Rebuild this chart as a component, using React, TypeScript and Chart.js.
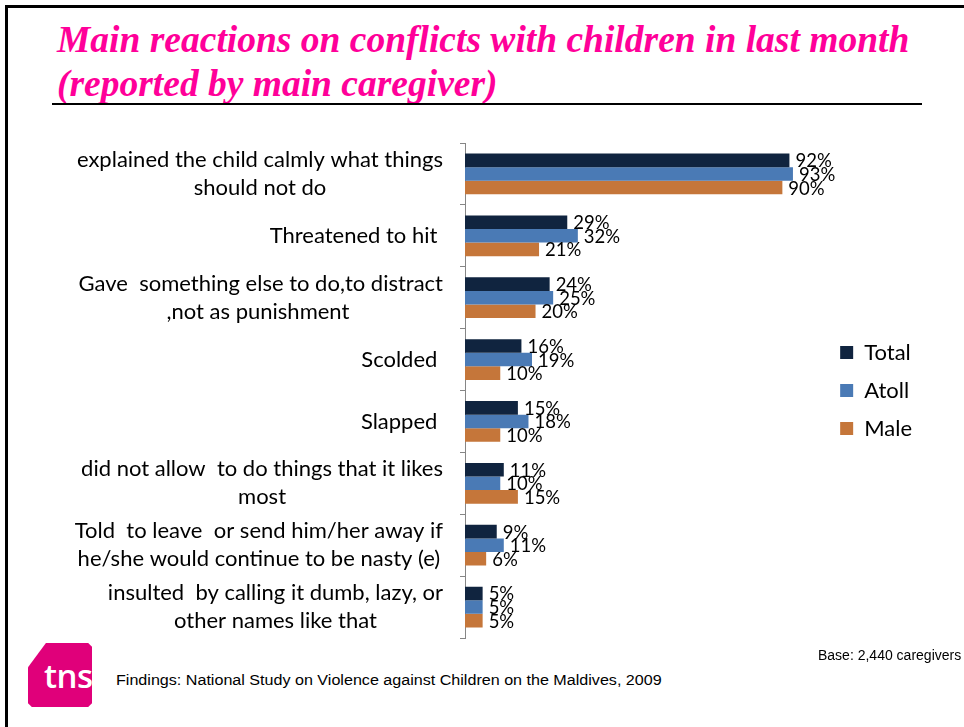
import React, { useEffect, useRef } from "react";
import { Chart, registerables } from "chart.js";

Chart.register(...registerables);

const titleLines = [
  "Main reactions on conflicts with children in last month",
  "(reported by main caregiver)",
];

const categories: (string | string[])[] = [
  ["explained the child calmly what things", "should not do"],
  "Threatened to hit ",
  ["Gave  something else to do,to distract", ",not as punishment "],
  "Scolded ",
  "Slapped ",
  ["did not allow  to do things that it likes", "most"],
  ["Told  to leave  or send him/her away if", "he/she would continue to be nasty (e)"],
  ["insulted  by calling it dumb, lazy, or", "other names like that"],
];

const seriesNames = ["Total", "Atoll", "Male"];
const totalValues = [92, 29, 24, 16, 15, 11, 9, 5];
const atollValues = [93, 32, 25, 19, 18, 10, 11, 5];
const maleValues = [90, 21, 20, 10, 10, 15, 6, 5];
const seriesColors = ["#10243F", "#4A7AB5", "#C5763A"];
const xMax = 101.85;

const baseNote = "Base: 2,440 caregivers";
const sourceNote = "Findings: National Study on Violence against Children on the Maldives, 2009";
const logoText = "tns";

const FONT = "Lato, 'Open Sans', sans-serif";

const categoryLabelPlugin = {
  id: "categoryLabels",
  afterDraw(chart: any) {
    const ctx = chart.ctx;
    const yScale = chart.scales.y;
    const rightEdge = yScale.right - 22;
    ctx.save();
    ctx.font = `22px ${FONT}`;
    ctx.fillStyle = "#000";
    ctx.textAlign = "center";
    ctx.textBaseline = "middle";
    categories.forEach((lab, i) => {
      const lines = Array.isArray(lab) ? lab : [lab];
      const widest = Math.max(...lines.map((l) => ctx.measureText(l).width));
      const cx = rightEdge - widest / 2;
      const cy = yScale.getPixelForValue(i);
      lines.forEach((l, j) => {
        ctx.fillText(l, cx, cy + (j - (lines.length - 1) / 2) * 28);
      });
    });
    ctx.restore();
  },
};

const valueLabelPlugin = {
  id: "valueLabels",
  afterDatasetsDraw(chart: any) {
    const ctx = chart.ctx;
    ctx.save();
    ctx.font = `18.5px ${FONT}`;
    ctx.fillStyle = "#000";
    ctx.textAlign = "left";
    ctx.textBaseline = "middle";
    chart.data.datasets.forEach((ds: any, di: number) => {
      const meta = chart.getDatasetMeta(di);
      meta.data.forEach((bar: any, i: number) => {
        ctx.fillText(`${ds.data[i]}%`, bar.x + 6, bar.y + 1);
      });
    });
    ctx.restore();
  },
};

function BarChart() {
  const ref = useRef<HTMLCanvasElement | null>(null);
  useEffect(() => {
    if (!ref.current) return;
    const values = [totalValues, atollValues, maleValues];
    const chart = new Chart(ref.current, {
      type: "bar",
      data: {
        labels: categories as any,
        datasets: seriesNames.map((name, i) => ({
          label: name,
          data: values[i],
          backgroundColor: seriesColors[i],
          borderWidth: 0,
          categoryPercentage: 0.66,
          barPercentage: 1,
        })),
      },
      options: {
        indexAxis: "y",
        animation: false,
        responsive: false,
        maintainAspectRatio: false,
        layout: { padding: { top: 13, bottom: 12, left: 0, right: 42 } },
        scales: {
          x: { display: false, min: 0, max: xMax },
          y: {
            type: "category",
            border: { display: true, color: "#868686", width: 1 },
            grid: {
              display: true,
              drawOnChartArea: false,
              drawTicks: true,
              tickLength: 5,
              color: "#868686",
              offset: true,
            },
            ticks: { display: false },
            afterFit: (scale: any) => {
              scale.width = 465;
            },
          },
        },
        plugins: {
          legend: {
            display: true,
            position: "right",
            labels: {
              boxWidth: 13,
              boxHeight: 13,
              padding: 16,
              color: "#000",
              font: { family: FONT, size: 22 },
            },
          },
          tooltip: { enabled: false },
          title: { display: false },
        },
      },
      plugins: [categoryLabelPlugin, valueLabelPlugin],
    } as any);
    return () => chart.destroy();
  }, []);
  return (
    <canvas
      ref={ref}
      width={964}
      height={520}
      style={{ position: "absolute", left: 0, top: 130, width: 964, height: 520, display: "block" }}
    />
  );
}

export default function App() {
  return (
    <div
      style={{
        position: "absolute",
        left: 0,
        top: 0,
        width: 964,
        height: 727,
        background: "#fff",
        overflow: "hidden",
      }}
    >
      <div
        style={{
          position: "absolute",
          left: 5,
          top: 5,
          width: 980,
          height: 760,
          borderTop: "3px solid #000",
          borderLeft: "3px solid #000",
        }}
      />
      <div
        style={{
          position: "absolute",
          left: 57,
          top: 18,
          fontFamily: "'Liberation Serif', 'Times New Roman', serif",
          fontWeight: "bold",
          fontStyle: "italic",
          fontSize: 37.5,
          lineHeight: "44px",
          color: "#FF0099",
          whiteSpace: "nowrap",
        }}
      >
        {titleLines.map((t) => (
          <div key={t}>{t}</div>
        ))}
      </div>
      <div
        style={{
          position: "absolute",
          left: 52,
          top: 103,
          width: 870,
          height: 2,
          background: "#000",
        }}
      />
      <BarChart />
      <div
        style={{
          position: "absolute",
          left: 818,
          top: 647,
          fontFamily: "'Liberation Sans', Arial, sans-serif",
          fontSize: 14,
          color: "#000",
          whiteSpace: "nowrap",
        }}
      >
        {baseNote}
      </div>
      <div
        style={{
          position: "absolute",
          left: 116,
          top: 672,
          fontFamily: "'Liberation Sans', Arial, sans-serif",
          fontSize: 14,
          color: "#000",
          whiteSpace: "nowrap",
          transform: "scaleX(1.15)",
          transformOrigin: "left center",
        }}
      >
        {sourceNote}
      </div>
      <div
        style={{
          position: "absolute",
          left: 28,
          top: 643,
          width: 64,
          height: 64,
          background: "#E0007A",
          clipPath: "polygon(28% 0, 94% 0, 100% 6%, 100% 94%, 94% 100%, 6% 100%, 0 94%, 0 38%)",
          overflow: "hidden",
        }}
      >
        <div
          style={{
            position: "absolute",
            left: 16,
            top: 14,
            fontFamily: "'Open Sans', 'DejaVu Sans', sans-serif",
            fontWeight: 600,
            fontSize: 33,
            lineHeight: "38px",
            color: "#fff",
            whiteSpace: "nowrap",
            letterSpacing: -0.5,
          }}
        >
          {logoText}
        </div>
      </div>
    </div>
  );
}
